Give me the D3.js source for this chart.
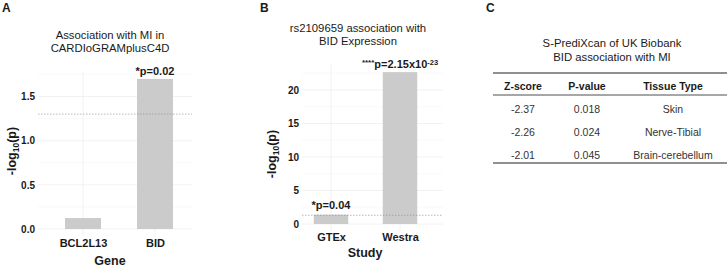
<!DOCTYPE html>
<html><head><meta charset="utf-8">
<script src="https://cdn.jsdelivr.net/npm/d3@7"></script>
<style>
body{margin:0;background:#fff;}
svg{font-family:"Liberation Sans",Arial,sans-serif;}
</style></head>
<body>
<svg id="c" width="727" height="269"></svg>
<script>
// Panel A data
const genesA = ["BCL2L13", "BID"];
const valuesA = [0.124, 1.699];
const labelsA = ["", "*p=0.02"];
const ticksA = [0, 0.5, 1.0, 1.5];
const minorA = [0.25, 0.75, 1.25, 1.75];
// Panel B data
const studiesB = ["GTEx", "Westra"];
const valuesB = [1.398, 22.668];
const ticksB = [0, 5, 10, 15, 20];
const minorB = [2.5, 7.5, 12.5, 17.5, 22.5];
const threshold = 1.301;
// Panel C table
const tableHeader = ["Z-score", "P-value", "Tissue Type"];
const zScores = ["-2.37", "-2.26", "-2.01"];
const pValues = ["0.018", "0.024", "0.045"];
const tissues = ["Skin", "Nerve-Tibial", "Brain-cerebellum"];

const svg = d3.select("#c");
const BAR = "#cbcbcb", GRID = "#efefef", TXT = "#1a1a1a";
const TITLE_FS = 11.3;

function panel(cfg){
  const g = svg.append("g");
  const x = d3.scalePoint().domain(cfg.cats).range(cfg.xc);
  const y = d3.scaleLinear().domain(cfg.ydom).range(cfg.yr);
  // grid
  g.selectAll(".mn").data(cfg.minor.filter(v=>y(v)>=cfg.top)).join("line")
    .attr("x1",cfg.gx[0]).attr("x2",cfg.gx[1]).attr("y1",d=>y(d)).attr("y2",d=>y(d))
    .attr("stroke","#f5f5f5").attr("stroke-width",0.6);
  g.selectAll(".mj").data(cfg.ticks).join("line")
    .attr("x1",cfg.gx[0]).attr("x2",cfg.gx[1]).attr("y1",d=>y(d)).attr("y2",d=>y(d))
    .attr("stroke",GRID).attr("stroke-width",0.8);
  g.selectAll(".vg").data(cfg.cats).join("line")
    .attr("x1",d=>x(d)).attr("x2",d=>x(d)).attr("y1",cfg.top).attr("y2",cfg.yr[0]+7)
    .attr("stroke",GRID).attr("stroke-width",0.8);
  // bars
  g.selectAll(".bar").data(cfg.vals).join("rect")
    .attr("x",(d,i)=>x(cfg.cats[i])-cfg.bw/2).attr("width",cfg.bw)
    .attr("y",d=>y(d)).attr("height",d=>y(0)-y(d)).attr("fill",BAR);
  // threshold
  g.append("line").attr("x1",cfg.gx[0]).attr("x2",cfg.gx[1])
    .attr("y1",y(threshold)).attr("y2",y(threshold))
    .attr("stroke","#8a8a8a").attr("stroke-width",0.6).attr("stroke-dasharray","1.5,1.5");
  // y axis labels
  const ya = g.append("g").attr("transform",`translate(${cfg.gx[0]-1},0)`)
    .call(d3.axisLeft(y).tickValues(cfg.ticks).tickFormat(cfg.fmt).tickSize(0).tickPadding(2));
  ya.select(".domain").remove();
  ya.selectAll("text").attr("font-family","Liberation Sans, Arial, sans-serif")
    .attr("font-size",10).attr("font-weight","bold").attr("fill",TXT);
  // x axis labels
  const xa = g.append("g").attr("transform",`translate(0,${cfg.xlabY})`)
    .call(d3.axisBottom(x).tickSize(0).tickPadding(0));
  xa.select(".domain").remove();
  xa.selectAll("text").attr("font-family","Liberation Sans, Arial, sans-serif")
    .attr("font-size",11).attr("font-weight","bold").attr("fill",TXT);
  // titles
  cfg.title.forEach((t,i)=>g.append("text").attr("x",cfg.tx).attr("y",cfg.ty+i*13)
    .attr("text-anchor","middle").attr("font-size",TITLE_FS).attr("fill",TXT).text(t));
  g.append("text").attr("x",cfg.xtx).attr("y",cfg.xty).attr("text-anchor","middle")
    .attr("font-size",12.5).attr("font-weight","bold").attr("fill",TXT).text(cfg.xtitle);
  const yt = g.append("text").attr("transform",`translate(${cfg.ytx},${cfg.yty}) rotate(-90)`)
    .attr("text-anchor","middle").attr("font-size",12.5).attr("font-weight","bold").attr("fill",TXT);
  yt.append("tspan").text("-log");
  yt.append("tspan").attr("font-size",8.5).attr("dy",3).text("10");
  yt.append("tspan").attr("dy",-3).text("(p)");
  g.append("text").attr("x",cfg.lx).attr("y",12).attr("font-size",12).attr("font-weight","bold")
    .attr("fill",TXT).text(cfg.letter);
  return {g,x,y};
}

const A = panel({cats:genesA, vals:valuesA, xc:[83,155], bw:36, ydom:[0,1.5], yr:[229,96.5],
  top:72, gx:[38,192], ticks:ticksA, minor:minorA, fmt:d3.format(".1f"), xlabY:239,
  title:["Association with MI in","CARDIoGRAMplusC4D"], tx:110, ty:39, xtitle:"Gene", xtx:110, xty:265,
  ytx:16, yty:151, lx:2, letter:"A"});
A.g.append("text").attr("x",A.x("BID")).attr("y",A.y(valuesA[1])-4).attr("text-anchor","middle")
  .attr("font-size",11).attr("font-weight","bold").attr("fill",TXT).text(labelsA[1]);

const B = panel({cats:studiesB, vals:valuesB, xc:[331,400], bw:34.5, ydom:[0,20], yr:[224,90],
  top:64, gx:[302,443], ticks:ticksB, minor:minorB, fmt:d3.format("d"), xlabY:233,
  title:["rs2109659 association with","BID Expression"], tx:358, ty:32, xtitle:"Study", xtx:365, xty:257,
  ytx:276, yty:154, lx:260, letter:"B"});
B.g.append("text").attr("x",B.x("GTEx")).attr("y",B.y(valuesB[0])-6).attr("text-anchor","middle")
  .attr("font-size",11).attr("font-weight","bold").attr("fill",TXT).text("*p=0.04");
const wl = B.g.append("text").attr("x",B.x("Westra")).attr("y",B.y(valuesB[1])-4).attr("text-anchor","middle")
  .attr("font-size",11).attr("font-weight","bold").attr("fill",TXT);
wl.append("tspan").attr("font-size",8).attr("dy",-3).text("****");
wl.append("tspan").attr("dy",3).text("p=2.15x10");
wl.append("tspan").attr("font-size",7.5).attr("dy",-3.5).text("-23");

// Panel C
const gc = svg.append("g");
gc.append("text").attr("x",486).attr("y",12).attr("font-size",12).attr("font-weight","bold").attr("fill",TXT).text("C");
["S-PrediXcan of UK Biobank","BID association with MI"].forEach((t,i)=>
  gc.append("text").attr("x",612).attr("y",47+i*13.5).attr("text-anchor","middle")
    .attr("font-size",TITLE_FS).attr("fill",TXT).text(t));
const colCenters = [523,587,673];
const rowY = d3.scalePoint().domain(d3.range(zScores.length)).range([113,159]);
gc.append("line").attr("x1",493).attr("x2",727).attr("y1",73).attr("y2",73).attr("stroke","#222").attr("stroke-width",1.2);
gc.append("line").attr("x1",493).attr("x2",727).attr("y1",95).attr("y2",95).attr("stroke","#222").attr("stroke-width",0.8);
gc.append("line").attr("x1",493).attr("x2",727).attr("y1",163).attr("y2",163).attr("stroke","#222").attr("stroke-width",1.2);
tableHeader.forEach((h,i)=>gc.append("text").attr("x",colCenters[i]).attr("y",90)
  .attr("text-anchor","middle").attr("font-size",10.5).attr("font-weight","bold").attr("fill",TXT).text(h));
const cols = [zScores,pValues,tissues];
cols.forEach((col,ci)=>col.forEach((v,ri)=>gc.append("text").attr("x",colCenters[ci]).attr("y",rowY(ri))
  .attr("text-anchor","middle").attr("font-size",10.5).attr("fill","#333").text(v)));
</script>
</body></html>
